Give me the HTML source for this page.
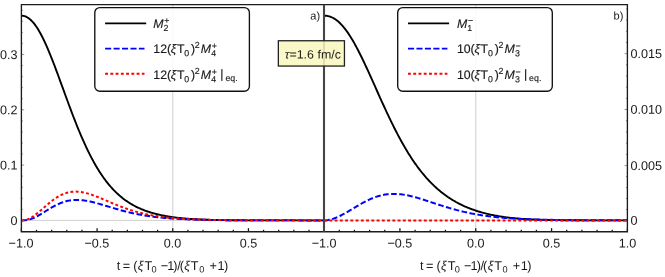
<!DOCTYPE html>
<html><head><meta charset="utf-8"><style>html,body{margin:0;padding:0;background:#fff}body{width:665px;height:277px;position:relative;overflow:hidden}</style></head><body><svg width="665" height="277" viewBox="0 0 665 277" style="position:absolute;left:0;top:0;will-change:transform;opacity:0.999">
<rect width="665" height="277" fill="#fff"/>
<line x1="21.4" x2="627.4" y1="220.4" y2="220.4" stroke="#cfcfcf" stroke-width="1"/>
<line x1="172.8" x2="172.8" y1="4.6" y2="231.7" stroke="#cfcfcf" stroke-width="1"/>
<line x1="475.8" x2="475.8" y1="4.6" y2="231.7" stroke="#cfcfcf" stroke-width="1"/>
<path d="M21.40,15.70 L22.41,15.74 L23.42,15.88 L24.44,16.12 L25.45,16.46 L26.46,16.91 L27.47,17.46 L28.49,18.11 L29.50,18.87 L30.51,19.74 L31.52,20.70 L32.54,21.77 L33.55,22.94 L34.56,24.20 L35.57,25.57 L36.59,27.03 L37.60,28.59 L38.61,30.24 L39.62,31.97 L40.64,33.80 L41.65,35.70 L42.66,37.69 L43.67,39.75 L44.68,41.88 L45.70,44.08 L46.71,46.35 L47.72,48.69 L48.73,51.08 L49.75,53.52 L50.76,56.01 L51.77,58.55 L52.78,61.13 L53.80,63.75 L54.81,66.41 L55.82,69.09 L56.83,71.80 L57.85,74.53 L58.86,77.28 L59.87,80.05 L60.88,82.82 L61.89,85.60 L62.91,88.39 L63.92,91.17 L64.93,93.95 L65.94,96.73 L66.96,99.49 L67.97,102.25 L68.98,104.98 L69.99,107.70 L71.01,110.40 L72.02,113.08 L73.03,115.73 L74.04,118.35 L75.06,120.95 L76.07,123.51 L77.08,126.04 L78.09,128.54 L79.11,131.00 L80.12,133.42 L81.13,135.80 L82.14,138.15 L83.15,140.45 L84.17,142.71 L85.18,144.93 L86.19,147.11 L87.20,149.25 L88.22,151.34 L89.23,153.38 L90.24,155.39 L91.25,157.35 L92.27,159.26 L93.28,161.13 L94.29,162.96 L95.30,164.74 L96.32,166.48 L97.33,168.18 L98.34,169.83 L99.35,171.44 L100.37,173.01 L101.38,174.53 L102.39,176.02 L103.40,177.47 L104.41,178.87 L105.43,180.24 L106.44,181.56 L107.45,182.85 L108.46,184.10 L109.48,185.32 L110.49,186.50 L111.50,187.64 L112.51,188.76 L113.53,189.83 L114.54,190.88 L115.55,191.89 L116.56,192.87 L117.58,193.82 L118.59,194.74 L119.60,195.63 L120.61,196.49 L121.63,197.33 L122.64,198.14 L123.65,198.92 L124.66,199.68 L125.67,200.41 L126.69,201.12 L127.70,201.81 L128.71,202.47 L129.72,203.11 L130.74,203.74 L131.75,204.34 L132.76,204.92 L133.77,205.48 L134.79,206.02 L135.80,206.54 L136.81,207.05 L137.82,207.54 L138.84,208.01 L139.85,208.46 L140.86,208.91 L141.87,209.33 L142.88,209.74 L143.90,210.14 L144.91,210.52 L145.92,210.89 L146.93,211.25 L147.95,211.60 L148.96,211.93 L149.97,212.25 L150.98,212.56 L152.00,212.86 L153.01,213.15 L154.02,213.43 L155.03,213.70 L156.05,213.96 L157.06,214.22 L158.07,214.46 L159.08,214.69 L160.10,214.92 L161.11,215.14 L162.12,215.35 L163.13,215.55 L164.14,215.74 L165.16,215.93 L166.17,216.11 L167.18,216.29 L168.19,216.46 L169.21,216.62 L170.22,216.78 L171.23,216.93 L172.24,217.07 L173.26,217.21 L174.27,217.35 L175.28,217.48 L176.29,217.61 L177.31,217.73 L178.32,217.84 L179.33,217.95 L180.34,218.06 L181.36,218.16 L182.37,218.26 L183.38,218.36 L184.39,218.45 L185.40,218.54 L186.42,218.63 L187.43,218.71 L188.44,218.79 L189.45,218.86 L190.47,218.93 L191.48,219.00 L192.49,219.07 L193.50,219.13 L194.52,219.19 L195.53,219.25 L196.54,219.31 L197.55,219.36 L198.57,219.41 L199.58,219.46 L200.59,219.51 L201.60,219.55 L202.62,219.60 L203.63,219.64 L204.64,219.68 L205.65,219.71 L206.66,219.75 L207.68,219.78 L208.69,219.82 L209.70,219.85 L210.71,219.88 L211.73,219.91 L212.74,219.93 L213.75,219.96 L214.76,219.98 L215.78,220.01 L216.79,220.03 L217.80,220.05 L218.81,220.07 L219.83,220.09 L220.84,220.10 L221.85,220.12 L222.86,220.14 L223.87,220.15 L224.89,220.17 L225.90,220.18 L226.91,220.19 L227.92,220.21 L228.94,220.22 L229.95,220.23 L230.96,220.24 L231.97,220.25 L232.99,220.26 L234.00,220.27 L235.01,220.27 L236.02,220.28 L237.04,220.29 L238.05,220.30 L239.06,220.30 L240.07,220.31 L241.09,220.31 L242.10,220.32 L243.11,220.32 L244.12,220.33 L245.13,220.33 L246.15,220.34 L247.16,220.34 L248.17,220.34 L249.18,220.35 L250.20,220.35 L251.21,220.35 L252.22,220.36 L253.23,220.36 L254.25,220.36 L255.26,220.36 L256.27,220.37 L257.28,220.37 L258.30,220.37 L259.31,220.37 L260.32,220.37 L261.33,220.37 L262.35,220.38 L263.36,220.38 L264.37,220.38 L265.38,220.38 L266.39,220.38 L267.41,220.38 L268.42,220.38 L269.43,220.38 L270.44,220.38 L271.46,220.38 L272.47,220.39 L273.48,220.39 L274.49,220.39 L275.51,220.39 L276.52,220.39 L277.53,220.39 L278.54,220.39 L279.56,220.39 L280.57,220.39 L281.58,220.39 L282.59,220.39 L283.61,220.39 L284.62,220.39 L285.63,220.39 L286.64,220.39 L287.65,220.39 L288.67,220.39 L289.68,220.39 L290.69,220.39 L291.70,220.39 L292.72,220.39 L293.73,220.39 L294.74,220.39 L295.75,220.39 L296.77,220.39 L297.78,220.39 L298.79,220.39 L299.80,220.39 L300.82,220.39 L301.83,220.39 L302.84,220.39 L303.85,220.39 L304.86,220.39 L305.88,220.39 L306.89,220.39 L307.90,220.39 L308.91,220.39 L309.93,220.39 L310.94,220.39 L311.95,220.39 L312.96,220.39 L313.98,220.39 L314.99,220.38 L316.00,220.38 L317.01,220.38 L318.03,220.38 L319.04,220.38 L320.05,220.37 L321.06,220.37 L322.08,220.37 L323.09,220.36 L324.10,220.36" fill="none" stroke="#000" stroke-width="1.9"/>
<path d="M21.40,220.40 L22.41,220.40 L23.42,220.37 L24.44,220.32 L25.45,220.23 L26.46,220.10 L27.47,219.93 L28.49,219.72 L29.50,219.46 L30.51,219.16 L31.52,218.82 L32.54,218.44 L33.55,218.02 L34.56,217.57 L35.57,217.08 L36.59,216.56 L37.60,216.02 L38.61,215.46 L39.62,214.88 L40.64,214.28 L41.65,213.66 L42.66,213.04 L43.67,212.41 L44.68,211.77 L45.70,211.13 L46.71,210.50 L47.72,209.87 L48.73,209.24 L49.75,208.63 L50.76,208.02 L51.77,207.43 L52.78,206.85 L53.80,206.29 L54.81,205.75 L55.82,205.23 L56.83,204.73 L57.85,204.25 L58.86,203.80 L59.87,203.36 L60.88,202.96 L61.89,202.58 L62.91,202.22 L63.92,201.89 L64.93,201.59 L65.94,201.31 L66.96,201.06 L67.97,200.84 L68.98,200.64 L69.99,200.46 L71.01,200.32 L72.02,200.20 L73.03,200.10 L74.04,200.03 L75.06,199.98 L76.07,199.95 L77.08,199.95 L78.09,199.96 L79.11,200.00 L80.12,200.06 L81.13,200.14 L82.14,200.23 L83.15,200.35 L84.17,200.48 L85.18,200.62 L86.19,200.79 L87.20,200.96 L88.22,201.15 L89.23,201.35 L90.24,201.57 L91.25,201.79 L92.27,202.03 L93.28,202.27 L94.29,202.53 L95.30,202.79 L96.32,203.06 L97.33,203.33 L98.34,203.61 L99.35,203.90 L100.37,204.19 L101.38,204.48 L102.39,204.78 L103.40,205.08 L104.41,205.38 L105.43,205.68 L106.44,205.99 L107.45,206.29 L108.46,206.60 L109.48,206.91 L110.49,207.21 L111.50,207.51 L112.51,207.81 L113.53,208.11 L114.54,208.41 L115.55,208.71 L116.56,209.00 L117.58,209.29 L118.59,209.58 L119.60,209.86 L120.61,210.14 L121.63,210.41 L122.64,210.69 L123.65,210.95 L124.66,211.22 L125.67,211.47 L126.69,211.73 L127.70,211.98 L128.71,212.22 L129.72,212.46 L130.74,212.70 L131.75,212.93 L132.76,213.15 L133.77,213.37 L134.79,213.59 L135.80,213.80 L136.81,214.01 L137.82,214.21 L138.84,214.40 L139.85,214.60 L140.86,214.78 L141.87,214.96 L142.88,215.14 L143.90,215.31 L144.91,215.48 L145.92,215.64 L146.93,215.80 L147.95,215.96 L148.96,216.11 L149.97,216.25 L150.98,216.39 L152.00,216.53 L153.01,216.66 L154.02,216.79 L155.03,216.92 L156.05,217.04 L157.06,217.16 L158.07,217.27 L159.08,217.38 L160.10,217.49 L161.11,217.59 L162.12,217.69 L163.13,217.79 L164.14,217.88 L165.16,217.97 L166.17,218.06 L167.18,218.15 L168.19,218.23 L169.21,218.31 L170.22,218.38 L171.23,218.46 L172.24,218.53 L173.26,218.60 L174.27,218.67 L175.28,218.73 L176.29,218.79 L177.31,218.85 L178.32,218.91 L179.33,218.96 L180.34,219.02 L181.36,219.07 L182.37,219.12 L183.38,219.17 L184.39,219.21 L185.40,219.26 L186.42,219.30 L187.43,219.34 L188.44,219.38 L189.45,219.42 L190.47,219.46 L191.48,219.49 L192.49,219.53 L193.50,219.56 L194.52,219.59 L195.53,219.62 L196.54,219.65 L197.55,219.68 L198.57,219.71 L199.58,219.73 L200.59,219.76 L201.60,219.78 L202.62,219.81 L203.63,219.83 L204.64,219.85 L205.65,219.87 L206.66,219.89 L207.68,219.91 L208.69,219.93 L209.70,219.95 L210.71,219.96 L211.73,219.98 L212.74,219.99 L213.75,220.01 L214.76,220.02 L215.78,220.04 L216.79,220.05 L217.80,220.06 L218.81,220.08 L219.83,220.09 L220.84,220.10 L221.85,220.11 L222.86,220.12 L223.87,220.13 L224.89,220.14 L225.90,220.15 L226.91,220.16 L227.92,220.17 L228.94,220.18 L229.95,220.19 L230.96,220.19 L231.97,220.20 L232.99,220.21 L234.00,220.22 L235.01,220.22 L236.02,220.23 L237.04,220.23 L238.05,220.24 L239.06,220.25 L240.07,220.25 L241.09,220.26 L242.10,220.26 L243.11,220.27 L244.12,220.27 L245.13,220.28 L246.15,220.28 L247.16,220.28 L248.17,220.29 L249.18,220.29 L250.20,220.29 L251.21,220.30 L252.22,220.30 L253.23,220.31 L254.25,220.31 L255.26,220.31 L256.27,220.31 L257.28,220.32 L258.30,220.32 L259.31,220.32 L260.32,220.32 L261.33,220.33 L262.35,220.33 L263.36,220.33 L264.37,220.33 L265.38,220.34 L266.39,220.34 L267.41,220.34 L268.42,220.34 L269.43,220.34 L270.44,220.35 L271.46,220.35 L272.47,220.35 L273.48,220.35 L274.49,220.35 L275.51,220.35 L276.52,220.35 L277.53,220.36 L278.54,220.36 L279.56,220.36 L280.57,220.36 L281.58,220.36 L282.59,220.36 L283.61,220.36 L284.62,220.36 L285.63,220.36 L286.64,220.37 L287.65,220.37 L288.67,220.37 L289.68,220.37 L290.69,220.37 L291.70,220.37 L292.72,220.37 L293.73,220.37 L294.74,220.37 L295.75,220.37 L296.77,220.37 L297.78,220.37 L298.79,220.37 L299.80,220.38 L300.82,220.38 L301.83,220.38 L302.84,220.38 L303.85,220.38 L304.86,220.38 L305.88,220.38 L306.89,220.38 L307.90,220.38 L308.91,220.38 L309.93,220.38 L310.94,220.38 L311.95,220.38 L312.96,220.38 L313.98,220.38 L314.99,220.38 L316.00,220.38 L317.01,220.38 L318.03,220.38 L319.04,220.38 L320.05,220.38 L321.06,220.38 L322.08,220.38 L323.09,220.38 L324.10,220.38" fill="none" stroke="#0000ff" stroke-width="2" stroke-dasharray="5.6 2.5"/>
<path d="M21.40,220.40 L22.41,220.38 L23.42,220.32 L24.44,220.19 L25.45,219.99 L26.46,219.72 L27.47,219.39 L28.49,218.99 L29.50,218.53 L30.51,218.01 L31.52,217.44 L32.54,216.82 L33.55,216.14 L34.56,215.43 L35.57,214.68 L36.59,213.90 L37.60,213.08 L38.61,212.25 L39.62,211.39 L40.64,210.52 L41.65,209.64 L42.66,208.75 L43.67,207.86 L44.68,206.97 L45.70,206.08 L46.71,205.20 L47.72,204.33 L48.73,203.48 L49.75,202.64 L50.76,201.83 L51.77,201.03 L52.78,200.26 L53.80,199.51 L54.81,198.80 L55.82,198.11 L56.83,197.45 L57.85,196.83 L58.86,196.24 L59.87,195.68 L60.88,195.16 L61.89,194.68 L62.91,194.23 L63.92,193.81 L64.93,193.44 L65.94,193.10 L66.96,192.79 L67.97,192.52 L68.98,192.29 L69.99,192.10 L71.01,191.93 L72.02,191.81 L73.03,191.71 L74.04,191.65 L75.06,191.62 L76.07,191.62 L77.08,191.65 L78.09,191.71 L79.11,191.80 L80.12,191.91 L81.13,192.05 L82.14,192.21 L83.15,192.40 L84.17,192.61 L85.18,192.84 L86.19,193.10 L87.20,193.37 L88.22,193.65 L89.23,193.96 L90.24,194.28 L91.25,194.61 L92.27,194.96 L93.28,195.32 L94.29,195.69 L95.30,196.08 L96.32,196.47 L97.33,196.87 L98.34,197.27 L99.35,197.69 L100.37,198.10 L101.38,198.53 L102.39,198.95 L103.40,199.38 L104.41,199.82 L105.43,200.25 L106.44,200.68 L107.45,201.12 L108.46,201.55 L109.48,201.98 L110.49,202.41 L111.50,202.84 L112.51,203.27 L113.53,203.69 L114.54,204.11 L115.55,204.53 L116.56,204.94 L117.58,205.35 L118.59,205.75 L119.60,206.15 L120.61,206.54 L121.63,206.92 L122.64,207.30 L123.65,207.68 L124.66,208.04 L125.67,208.40 L126.69,208.76 L127.70,209.10 L128.71,209.44 L129.72,209.78 L130.74,210.10 L131.75,210.42 L132.76,210.73 L133.77,211.04 L134.79,211.34 L135.80,211.63 L136.81,211.91 L137.82,212.19 L138.84,212.46 L139.85,212.72 L140.86,212.98 L141.87,213.22 L142.88,213.47 L143.90,213.70 L144.91,213.93 L145.92,214.15 L146.93,214.37 L147.95,214.58 L148.96,214.78 L149.97,214.98 L150.98,215.17 L152.00,215.36 L153.01,215.54 L154.02,215.71 L155.03,215.88 L156.05,216.05 L157.06,216.21 L158.07,216.36 L159.08,216.51 L160.10,216.65 L161.11,216.79 L162.12,216.92 L163.13,217.05 L164.14,217.18 L165.16,217.30 L166.17,217.42 L167.18,217.53 L168.19,217.64 L169.21,217.74 L170.22,217.84 L171.23,217.94 L172.24,218.03 L173.26,218.12 L174.27,218.21 L175.28,218.30 L176.29,218.38 L177.31,218.46 L178.32,218.53 L179.33,218.60 L180.34,218.67 L181.36,218.74 L182.37,218.80 L183.38,218.87 L184.39,218.93 L185.40,218.98 L186.42,219.04 L187.43,219.09 L188.44,219.14 L189.45,219.19 L190.47,219.24 L191.48,219.29 L192.49,219.33 L193.50,219.37 L194.52,219.41 L195.53,219.45 L196.54,219.49 L197.55,219.52 L198.57,219.56 L199.58,219.59 L200.59,219.62 L201.60,219.65 L202.62,219.68 L203.63,219.71 L204.64,219.74 L205.65,219.76 L206.66,219.79 L207.68,219.81 L208.69,219.84 L209.70,219.86 L210.71,219.88 L211.73,219.90 L212.74,219.92 L213.75,219.94 L214.76,219.96 L215.78,219.97 L216.79,219.99 L217.80,220.00 L218.81,220.02 L219.83,220.03 L220.84,220.05 L221.85,220.06 L222.86,220.07 L223.87,220.09 L224.89,220.10 L225.90,220.11 L226.91,220.12 L227.92,220.13 L228.94,220.14 L229.95,220.15 L230.96,220.16 L231.97,220.17 L232.99,220.18 L234.00,220.19 L235.01,220.19 L236.02,220.20 L237.04,220.21 L238.05,220.22 L239.06,220.22 L240.07,220.23 L241.09,220.24 L242.10,220.24 L243.11,220.25 L244.12,220.25 L245.13,220.26 L246.15,220.26 L247.16,220.27 L248.17,220.27 L249.18,220.28 L250.20,220.28 L251.21,220.29 L252.22,220.29 L253.23,220.29 L254.25,220.30 L255.26,220.30 L256.27,220.30 L257.28,220.31 L258.30,220.31 L259.31,220.31 L260.32,220.32 L261.33,220.32 L262.35,220.32 L263.36,220.32 L264.37,220.33 L265.38,220.33 L266.39,220.33 L267.41,220.33 L268.42,220.33 L269.43,220.34 L270.44,220.34 L271.46,220.34 L272.47,220.34 L273.48,220.34 L274.49,220.35 L275.51,220.35 L276.52,220.35 L277.53,220.35 L278.54,220.35 L279.56,220.35 L280.57,220.35 L281.58,220.36 L282.59,220.36 L283.61,220.36 L284.62,220.36 L285.63,220.36 L286.64,220.36 L287.65,220.36 L288.67,220.36 L289.68,220.36 L290.69,220.37 L291.70,220.37 L292.72,220.37 L293.73,220.37 L294.74,220.37 L295.75,220.37 L296.77,220.37 L297.78,220.37 L298.79,220.37 L299.80,220.37 L300.82,220.37 L301.83,220.37 L302.84,220.37 L303.85,220.37 L304.86,220.37 L305.88,220.38 L306.89,220.38 L307.90,220.38 L308.91,220.38 L309.93,220.38 L310.94,220.38 L311.95,220.38 L312.96,220.38 L313.98,220.38 L314.99,220.38 L316.00,220.38 L317.01,220.38 L318.03,220.38 L319.04,220.38 L320.05,220.38 L321.06,220.38 L322.08,220.38 L323.09,220.38 L324.10,220.38" fill="none" stroke="#ff0000" stroke-width="2" stroke-dasharray="2.9 2.35"/>
<path d="M324.10,15.70 L325.11,15.71 L326.13,15.78 L327.14,15.91 L328.16,16.10 L329.17,16.36 L330.19,16.67 L331.20,17.06 L332.22,17.50 L333.23,18.02 L334.24,18.60 L335.26,19.24 L336.27,19.96 L337.29,20.74 L338.30,21.59 L339.32,22.50 L340.33,23.48 L341.34,24.53 L342.36,25.64 L343.37,26.82 L344.39,28.06 L345.40,29.36 L346.42,30.72 L347.43,32.14 L348.45,33.62 L349.46,35.16 L350.47,36.75 L351.49,38.39 L352.50,40.08 L353.52,41.83 L354.53,43.62 L355.55,45.45 L356.56,47.33 L357.57,49.25 L358.59,51.21 L359.60,53.20 L360.62,55.23 L361.63,57.29 L362.65,59.38 L363.66,61.50 L364.68,63.64 L365.69,65.80 L366.70,67.99 L367.72,70.19 L368.73,72.41 L369.75,74.65 L370.76,76.89 L371.78,79.15 L372.79,81.41 L373.80,83.68 L374.82,85.95 L375.83,88.22 L376.85,90.49 L377.86,92.76 L378.88,95.03 L379.89,97.28 L380.91,99.54 L381.92,101.78 L382.93,104.01 L383.95,106.23 L384.96,108.43 L385.98,110.62 L386.99,112.80 L388.01,114.96 L389.02,117.09 L390.03,119.21 L391.05,121.31 L392.06,123.39 L393.08,125.44 L394.09,127.47 L395.11,129.48 L396.12,131.46 L397.14,133.42 L398.15,135.35 L399.16,137.25 L400.18,139.13 L401.19,140.98 L402.21,142.80 L403.22,144.59 L404.24,146.36 L405.25,148.09 L406.26,149.80 L407.28,151.48 L408.29,153.13 L409.31,154.76 L410.32,156.35 L411.34,157.91 L412.35,159.45 L413.37,160.96 L414.38,162.43 L415.39,163.88 L416.41,165.30 L417.42,166.70 L418.44,168.06 L419.45,169.40 L420.47,170.71 L421.48,171.99 L422.49,173.25 L423.51,174.48 L424.52,175.68 L425.54,176.86 L426.55,178.01 L427.57,179.14 L428.58,180.24 L429.60,181.31 L430.61,182.37 L431.62,183.40 L432.64,184.40 L433.65,185.38 L434.67,186.34 L435.68,187.28 L436.70,188.20 L437.71,189.09 L438.73,189.97 L439.74,190.82 L440.75,191.65 L441.77,192.47 L442.78,193.26 L443.80,194.03 L444.81,194.79 L445.83,195.52 L446.84,196.24 L447.85,196.95 L448.87,197.63 L449.88,198.30 L450.90,198.95 L451.91,199.58 L452.93,200.20 L453.94,200.80 L454.96,201.39 L455.97,201.97 L456.98,202.52 L458.00,203.07 L459.01,203.60 L460.03,204.12 L461.04,204.62 L462.06,205.11 L463.07,205.59 L464.08,206.05 L465.10,206.51 L466.11,206.95 L467.13,207.38 L468.14,207.80 L469.16,208.21 L470.17,208.60 L471.19,208.99 L472.20,209.36 L473.21,209.73 L474.23,210.09 L475.24,210.43 L476.26,210.77 L477.27,211.09 L478.29,211.41 L479.30,211.72 L480.31,212.02 L481.33,212.31 L482.34,212.60 L483.36,212.87 L484.37,213.14 L485.39,213.40 L486.40,213.65 L487.42,213.90 L488.43,214.14 L489.44,214.37 L490.46,214.59 L491.47,214.81 L492.49,215.02 L493.50,215.22 L494.52,215.42 L495.53,215.61 L496.54,215.80 L497.56,215.97 L498.57,216.15 L499.59,216.32 L500.60,216.48 L501.62,216.64 L502.63,216.79 L503.65,216.94 L504.66,217.08 L505.67,217.21 L506.69,217.35 L507.70,217.48 L508.72,217.60 L509.73,217.72 L510.75,217.83 L511.76,217.94 L512.77,218.05 L513.79,218.15 L514.80,218.25 L515.82,218.35 L516.83,218.44 L517.85,218.53 L518.86,218.61 L519.88,218.69 L520.89,218.77 L521.90,218.85 L522.92,218.92 L523.93,218.99 L524.95,219.05 L525.96,219.12 L526.98,219.18 L527.99,219.24 L529.01,219.29 L530.02,219.35 L531.03,219.40 L532.05,219.45 L533.06,219.49 L534.08,219.54 L535.09,219.58 L536.11,219.62 L537.12,219.66 L538.13,219.70 L539.15,219.73 L540.16,219.77 L541.18,219.80 L542.19,219.83 L543.21,219.86 L544.22,219.89 L545.24,219.91 L546.25,219.94 L547.26,219.96 L548.28,219.98 L549.29,220.00 L550.31,220.02 L551.32,220.04 L552.34,220.06 L553.35,220.08 L554.36,220.10 L555.38,220.11 L556.39,220.13 L557.41,220.14 L558.42,220.15 L559.44,220.17 L560.45,220.18 L561.47,220.19 L562.48,220.20 L563.49,220.21 L564.51,220.22 L565.52,220.23 L566.54,220.24 L567.55,220.25 L568.57,220.25 L569.58,220.26 L570.59,220.27 L571.61,220.27 L572.62,220.28 L573.64,220.29 L574.65,220.29 L575.67,220.30 L576.68,220.30 L577.70,220.30 L578.71,220.31 L579.72,220.31 L580.74,220.32 L581.75,220.32 L582.77,220.32 L583.78,220.33 L584.80,220.33 L585.81,220.33 L586.82,220.33 L587.84,220.34 L588.85,220.34 L589.87,220.34 L590.88,220.34 L591.90,220.34 L592.91,220.35 L593.93,220.35 L594.94,220.35 L595.95,220.35 L596.97,220.35 L597.98,220.35 L599.00,220.35 L600.01,220.35 L601.03,220.35 L602.04,220.36 L603.05,220.36 L604.07,220.36 L605.08,220.36 L606.10,220.36 L607.11,220.36 L608.13,220.36 L609.14,220.36 L610.16,220.36 L611.17,220.36 L612.18,220.36 L613.20,220.35 L614.21,220.35 L615.23,220.35 L616.24,220.35 L617.26,220.35 L618.27,220.35 L619.28,220.35 L620.30,220.35 L621.31,220.34 L622.33,220.34 L623.34,220.34 L624.36,220.33 L625.37,220.33 L626.39,220.33 L627.40,220.32" fill="none" stroke="#000" stroke-width="1.9"/>
<path d="M324.10,220.40 L325.11,220.38 L326.13,220.31 L327.14,220.19 L328.16,220.04 L329.17,219.84 L330.19,219.62 L331.20,219.35 L332.22,219.06 L333.23,218.74 L334.24,218.38 L335.26,218.00 L336.27,217.60 L337.29,217.17 L338.30,216.72 L339.32,216.25 L340.33,215.76 L341.34,215.25 L342.36,214.72 L343.37,214.18 L344.39,213.63 L345.40,213.06 L346.42,212.48 L347.43,211.90 L348.45,211.30 L349.46,210.70 L350.47,210.09 L351.49,209.49 L352.50,208.87 L353.52,208.26 L354.53,207.65 L355.55,207.04 L356.56,206.44 L357.57,205.84 L358.59,205.24 L359.60,204.65 L360.62,204.07 L361.63,203.50 L362.65,202.94 L363.66,202.38 L364.68,201.85 L365.69,201.32 L366.70,200.81 L367.72,200.31 L368.73,199.83 L369.75,199.36 L370.76,198.91 L371.78,198.48 L372.79,198.06 L373.80,197.67 L374.82,197.29 L375.83,196.93 L376.85,196.59 L377.86,196.27 L378.88,195.97 L379.89,195.69 L380.91,195.43 L381.92,195.19 L382.93,194.97 L383.95,194.78 L384.96,194.60 L385.98,194.44 L386.99,194.30 L388.01,194.18 L389.02,194.09 L390.03,194.01 L391.05,193.95 L392.06,193.91 L393.08,193.89 L394.09,193.89 L395.11,193.90 L396.12,193.93 L397.14,193.98 L398.15,194.05 L399.16,194.13 L400.18,194.23 L401.19,194.35 L402.21,194.48 L403.22,194.62 L404.24,194.78 L405.25,194.95 L406.26,195.13 L407.28,195.33 L408.29,195.54 L409.31,195.76 L410.32,195.99 L411.34,196.23 L412.35,196.47 L413.37,196.73 L414.38,197.00 L415.39,197.27 L416.41,197.56 L417.42,197.85 L418.44,198.14 L419.45,198.44 L420.47,198.75 L421.48,199.06 L422.49,199.38 L423.51,199.70 L424.52,200.02 L425.54,200.35 L426.55,200.68 L427.57,201.01 L428.58,201.34 L429.60,201.67 L430.61,202.01 L431.62,202.35 L432.64,202.68 L433.65,203.02 L434.67,203.35 L435.68,203.69 L436.70,204.02 L437.71,204.35 L438.73,204.68 L439.74,205.01 L440.75,205.34 L441.77,205.66 L442.78,205.99 L443.80,206.31 L444.81,206.62 L445.83,206.94 L446.84,207.24 L447.85,207.55 L448.87,207.85 L449.88,208.15 L450.90,208.45 L451.91,208.74 L452.93,209.02 L453.94,209.31 L454.96,209.58 L455.97,209.86 L456.98,210.13 L458.00,210.39 L459.01,210.65 L460.03,210.91 L461.04,211.16 L462.06,211.41 L463.07,211.65 L464.08,211.88 L465.10,212.12 L466.11,212.34 L467.13,212.57 L468.14,212.79 L469.16,213.00 L470.17,213.21 L471.19,213.41 L472.20,213.61 L473.21,213.81 L474.23,214.00 L475.24,214.18 L476.26,214.37 L477.27,214.54 L478.29,214.72 L479.30,214.88 L480.31,215.05 L481.33,215.21 L482.34,215.37 L483.36,215.52 L484.37,215.67 L485.39,215.81 L486.40,215.95 L487.42,216.09 L488.43,216.22 L489.44,216.35 L490.46,216.48 L491.47,216.60 L492.49,216.72 L493.50,216.83 L494.52,216.95 L495.53,217.06 L496.54,217.16 L497.56,217.26 L498.57,217.36 L499.59,217.46 L500.60,217.55 L501.62,217.65 L502.63,217.73 L503.65,217.82 L504.66,217.90 L505.67,217.98 L506.69,218.06 L507.70,218.14 L508.72,218.21 L509.73,218.28 L510.75,218.35 L511.76,218.42 L512.77,218.48 L513.79,218.55 L514.80,218.61 L515.82,218.67 L516.83,218.72 L517.85,218.78 L518.86,218.83 L519.88,218.88 L520.89,218.93 L521.90,218.98 L522.92,219.03 L523.93,219.07 L524.95,219.12 L525.96,219.16 L526.98,219.20 L527.99,219.24 L529.01,219.28 L530.02,219.31 L531.03,219.35 L532.05,219.38 L533.06,219.42 L534.08,219.45 L535.09,219.48 L536.11,219.51 L537.12,219.54 L538.13,219.57 L539.15,219.59 L540.16,219.62 L541.18,219.65 L542.19,219.67 L543.21,219.69 L544.22,219.72 L545.24,219.74 L546.25,219.76 L547.26,219.78 L548.28,219.80 L549.29,219.82 L550.31,219.84 L551.32,219.86 L552.34,219.87 L553.35,219.89 L554.36,219.91 L555.38,219.92 L556.39,219.94 L557.41,219.95 L558.42,219.97 L559.44,219.98 L560.45,219.99 L561.47,220.00 L562.48,220.02 L563.49,220.03 L564.51,220.04 L565.52,220.05 L566.54,220.06 L567.55,220.07 L568.57,220.08 L569.58,220.09 L570.59,220.10 L571.61,220.11 L572.62,220.12 L573.64,220.13 L574.65,220.13 L575.67,220.14 L576.68,220.15 L577.70,220.16 L578.71,220.16 L579.72,220.17 L580.74,220.18 L581.75,220.18 L582.77,220.19 L583.78,220.19 L584.80,220.20 L585.81,220.21 L586.82,220.21 L587.84,220.22 L588.85,220.22 L589.87,220.23 L590.88,220.23 L591.90,220.23 L592.91,220.24 L593.93,220.24 L594.94,220.25 L595.95,220.25 L596.97,220.26 L597.98,220.26 L599.00,220.26 L600.01,220.27 L601.03,220.27 L602.04,220.27 L603.05,220.28 L604.07,220.28 L605.08,220.28 L606.10,220.28 L607.11,220.29 L608.13,220.29 L609.14,220.29 L610.16,220.29 L611.17,220.30 L612.18,220.30 L613.20,220.30 L614.21,220.30 L615.23,220.31 L616.24,220.31 L617.26,220.31 L618.27,220.31 L619.28,220.31 L620.30,220.31 L621.31,220.32 L622.33,220.32 L623.34,220.32 L624.36,220.32 L625.37,220.32 L626.39,220.32 L627.40,220.32" fill="none" stroke="#0000ff" stroke-width="2" stroke-dasharray="5.6 2.5"/>
<path d="M324.1,220.4 L627.4,220.4" fill="none" stroke="#ff0000" stroke-width="2" stroke-dasharray="2.9 2.35"/>
<line x1="21.40" x2="21.40" y1="231.7" y2="228.2" stroke="#111" stroke-width="1.25"/>
<line x1="36.53" x2="36.53" y1="231.7" y2="229.79999999999998" stroke="#111" stroke-width="1.25"/>
<line x1="51.67" x2="51.67" y1="231.7" y2="229.79999999999998" stroke="#111" stroke-width="1.25"/>
<line x1="66.81" x2="66.81" y1="231.7" y2="229.79999999999998" stroke="#111" stroke-width="1.25"/>
<line x1="81.94" x2="81.94" y1="231.7" y2="229.79999999999998" stroke="#111" stroke-width="1.25"/>
<line x1="97.08" x2="97.08" y1="231.7" y2="228.2" stroke="#111" stroke-width="1.25"/>
<line x1="112.21" x2="112.21" y1="231.7" y2="229.79999999999998" stroke="#111" stroke-width="1.25"/>
<line x1="127.35" x2="127.35" y1="231.7" y2="229.79999999999998" stroke="#111" stroke-width="1.25"/>
<line x1="142.48" x2="142.48" y1="231.7" y2="229.79999999999998" stroke="#111" stroke-width="1.25"/>
<line x1="157.62" x2="157.62" y1="231.7" y2="229.79999999999998" stroke="#111" stroke-width="1.25"/>
<line x1="172.75" x2="172.75" y1="231.7" y2="228.2" stroke="#111" stroke-width="1.25"/>
<line x1="187.89" x2="187.89" y1="231.7" y2="229.79999999999998" stroke="#111" stroke-width="1.25"/>
<line x1="203.02" x2="203.02" y1="231.7" y2="229.79999999999998" stroke="#111" stroke-width="1.25"/>
<line x1="218.16" x2="218.16" y1="231.7" y2="229.79999999999998" stroke="#111" stroke-width="1.25"/>
<line x1="233.29" x2="233.29" y1="231.7" y2="229.79999999999998" stroke="#111" stroke-width="1.25"/>
<line x1="248.43" x2="248.43" y1="231.7" y2="228.2" stroke="#111" stroke-width="1.25"/>
<line x1="263.56" x2="263.56" y1="231.7" y2="229.79999999999998" stroke="#111" stroke-width="1.25"/>
<line x1="278.69" x2="278.69" y1="231.7" y2="229.79999999999998" stroke="#111" stroke-width="1.25"/>
<line x1="293.83" x2="293.83" y1="231.7" y2="229.79999999999998" stroke="#111" stroke-width="1.25"/>
<line x1="308.97" x2="308.97" y1="231.7" y2="229.79999999999998" stroke="#111" stroke-width="1.25"/>
<line x1="324.10" x2="324.10" y1="231.7" y2="228.2" stroke="#111" stroke-width="1.25"/>
<line x1="324.10" x2="324.10" y1="231.7" y2="228.2" stroke="#111" stroke-width="1.25"/>
<line x1="339.27" x2="339.27" y1="231.7" y2="229.79999999999998" stroke="#111" stroke-width="1.25"/>
<line x1="354.43" x2="354.43" y1="231.7" y2="229.79999999999998" stroke="#111" stroke-width="1.25"/>
<line x1="369.60" x2="369.60" y1="231.7" y2="229.79999999999998" stroke="#111" stroke-width="1.25"/>
<line x1="384.76" x2="384.76" y1="231.7" y2="229.79999999999998" stroke="#111" stroke-width="1.25"/>
<line x1="399.93" x2="399.93" y1="231.7" y2="228.2" stroke="#111" stroke-width="1.25"/>
<line x1="415.09" x2="415.09" y1="231.7" y2="229.79999999999998" stroke="#111" stroke-width="1.25"/>
<line x1="430.25" x2="430.25" y1="231.7" y2="229.79999999999998" stroke="#111" stroke-width="1.25"/>
<line x1="445.42" x2="445.42" y1="231.7" y2="229.79999999999998" stroke="#111" stroke-width="1.25"/>
<line x1="460.59" x2="460.59" y1="231.7" y2="229.79999999999998" stroke="#111" stroke-width="1.25"/>
<line x1="475.75" x2="475.75" y1="231.7" y2="228.2" stroke="#111" stroke-width="1.25"/>
<line x1="490.91" x2="490.91" y1="231.7" y2="229.79999999999998" stroke="#111" stroke-width="1.25"/>
<line x1="506.08" x2="506.08" y1="231.7" y2="229.79999999999998" stroke="#111" stroke-width="1.25"/>
<line x1="521.25" x2="521.25" y1="231.7" y2="229.79999999999998" stroke="#111" stroke-width="1.25"/>
<line x1="536.41" x2="536.41" y1="231.7" y2="229.79999999999998" stroke="#111" stroke-width="1.25"/>
<line x1="551.58" x2="551.58" y1="231.7" y2="228.2" stroke="#111" stroke-width="1.25"/>
<line x1="566.74" x2="566.74" y1="231.7" y2="229.79999999999998" stroke="#111" stroke-width="1.25"/>
<line x1="581.90" x2="581.90" y1="231.7" y2="229.79999999999998" stroke="#111" stroke-width="1.25"/>
<line x1="597.07" x2="597.07" y1="231.7" y2="229.79999999999998" stroke="#111" stroke-width="1.25"/>
<line x1="612.23" x2="612.23" y1="231.7" y2="229.79999999999998" stroke="#111" stroke-width="1.25"/>
<line x1="627.40" x2="627.40" y1="231.7" y2="228.2" stroke="#111" stroke-width="1.25"/>
<line x1="21.4" x2="24.2" y1="220.40" y2="220.40" stroke="#777" stroke-width="0.8"/>
<line x1="21.4" x2="22.9" y1="209.34" y2="209.34" stroke="#777" stroke-width="0.8"/>
<line x1="21.4" x2="22.9" y1="198.28" y2="198.28" stroke="#777" stroke-width="0.8"/>
<line x1="21.4" x2="22.9" y1="187.22" y2="187.22" stroke="#777" stroke-width="0.8"/>
<line x1="21.4" x2="22.9" y1="176.16" y2="176.16" stroke="#777" stroke-width="0.8"/>
<line x1="21.4" x2="24.2" y1="165.10" y2="165.10" stroke="#777" stroke-width="0.8"/>
<line x1="21.4" x2="22.9" y1="154.04" y2="154.04" stroke="#777" stroke-width="0.8"/>
<line x1="21.4" x2="22.9" y1="142.98" y2="142.98" stroke="#777" stroke-width="0.8"/>
<line x1="21.4" x2="22.9" y1="131.92" y2="131.92" stroke="#777" stroke-width="0.8"/>
<line x1="21.4" x2="22.9" y1="120.86" y2="120.86" stroke="#777" stroke-width="0.8"/>
<line x1="21.4" x2="24.2" y1="109.80" y2="109.80" stroke="#777" stroke-width="0.8"/>
<line x1="21.4" x2="22.9" y1="98.74" y2="98.74" stroke="#777" stroke-width="0.8"/>
<line x1="21.4" x2="22.9" y1="87.68" y2="87.68" stroke="#777" stroke-width="0.8"/>
<line x1="21.4" x2="22.9" y1="76.62" y2="76.62" stroke="#777" stroke-width="0.8"/>
<line x1="21.4" x2="22.9" y1="65.56" y2="65.56" stroke="#777" stroke-width="0.8"/>
<line x1="21.4" x2="24.2" y1="54.50" y2="54.50" stroke="#777" stroke-width="0.8"/>
<line x1="21.4" x2="22.9" y1="43.44" y2="43.44" stroke="#777" stroke-width="0.8"/>
<line x1="21.4" x2="22.9" y1="32.38" y2="32.38" stroke="#777" stroke-width="0.8"/>
<line x1="21.4" x2="22.9" y1="21.32" y2="21.32" stroke="#777" stroke-width="0.8"/>
<line x1="21.4" x2="22.9" y1="10.26" y2="10.26" stroke="#777" stroke-width="0.8"/>
<line x1="627.4" x2="624.6" y1="220.45" y2="220.45" stroke="#777" stroke-width="0.8"/>
<line x1="627.4" x2="625.9" y1="209.48" y2="209.48" stroke="#777" stroke-width="0.8"/>
<line x1="627.4" x2="625.9" y1="198.51" y2="198.51" stroke="#777" stroke-width="0.8"/>
<line x1="627.4" x2="625.9" y1="187.54" y2="187.54" stroke="#777" stroke-width="0.8"/>
<line x1="627.4" x2="625.9" y1="176.57" y2="176.57" stroke="#777" stroke-width="0.8"/>
<line x1="627.4" x2="624.6" y1="165.60" y2="165.60" stroke="#777" stroke-width="0.8"/>
<line x1="627.4" x2="625.9" y1="154.38" y2="154.38" stroke="#777" stroke-width="0.8"/>
<line x1="627.4" x2="625.9" y1="143.16" y2="143.16" stroke="#777" stroke-width="0.8"/>
<line x1="627.4" x2="625.9" y1="131.94" y2="131.94" stroke="#777" stroke-width="0.8"/>
<line x1="627.4" x2="625.9" y1="120.72" y2="120.72" stroke="#777" stroke-width="0.8"/>
<line x1="627.4" x2="624.6" y1="109.50" y2="109.50" stroke="#777" stroke-width="0.8"/>
<line x1="627.4" x2="625.9" y1="98.33" y2="98.33" stroke="#777" stroke-width="0.8"/>
<line x1="627.4" x2="625.9" y1="87.16" y2="87.16" stroke="#777" stroke-width="0.8"/>
<line x1="627.4" x2="625.9" y1="75.99" y2="75.99" stroke="#777" stroke-width="0.8"/>
<line x1="627.4" x2="625.9" y1="64.82" y2="64.82" stroke="#777" stroke-width="0.8"/>
<line x1="627.4" x2="624.6" y1="53.65" y2="53.65" stroke="#777" stroke-width="0.8"/>
<line x1="627.4" x2="625.9" y1="42.48" y2="42.48" stroke="#777" stroke-width="0.8"/>
<line x1="627.4" x2="625.9" y1="31.31" y2="31.31" stroke="#777" stroke-width="0.8"/>
<line x1="627.4" x2="625.9" y1="20.14" y2="20.14" stroke="#777" stroke-width="0.8"/>
<line x1="627.4" x2="625.9" y1="8.97" y2="8.97" stroke="#777" stroke-width="0.8"/>
<path d="M21.4,4.6 H627.4 V231.7 H21.4 Z" fill="none" stroke="#1c1c1c" stroke-width="1.35"/>
<line x1="324.0" x2="324.0" y1="4.6" y2="231.7" stroke="#454545" stroke-width="2.1"/>
<text transform="translate(21.0,247.4) rotate(0.03) scale(1.0,1)" text-anchor="middle" font-size="12.6" fill="#1a1a1a" font-family="Liberation Sans, sans-serif" text-rendering="geometricPrecision" >−1.0</text>
<text transform="translate(96.9,247.4) rotate(0.03) scale(1.0,1)" text-anchor="middle" font-size="12.6" fill="#1a1a1a" font-family="Liberation Sans, sans-serif" text-rendering="geometricPrecision" >−0.5</text>
<text transform="translate(172.4,247.4) rotate(0.03) scale(1.0,1)" text-anchor="middle" font-size="12.6" fill="#1a1a1a" font-family="Liberation Sans, sans-serif" text-rendering="geometricPrecision" >0.0</text>
<text transform="translate(248.4,247.4) rotate(0.03) scale(1.0,1)" text-anchor="middle" font-size="12.6" fill="#1a1a1a" font-family="Liberation Sans, sans-serif" text-rendering="geometricPrecision" >0.5</text>
<text transform="translate(324.1,247.4) rotate(0.03) scale(1.0,1)" text-anchor="middle" font-size="12.6" fill="#1a1a1a" font-family="Liberation Sans, sans-serif" text-rendering="geometricPrecision" >−1.0</text>
<text transform="translate(399.9,247.4) rotate(0.03) scale(1.0,1)" text-anchor="middle" font-size="12.6" fill="#1a1a1a" font-family="Liberation Sans, sans-serif" text-rendering="geometricPrecision" >−0.5</text>
<text transform="translate(475.8,247.4) rotate(0.03) scale(1.0,1)" text-anchor="middle" font-size="12.6" fill="#1a1a1a" font-family="Liberation Sans, sans-serif" text-rendering="geometricPrecision" >0.0</text>
<text transform="translate(551.6,247.4) rotate(0.03) scale(1.0,1)" text-anchor="middle" font-size="12.6" fill="#1a1a1a" font-family="Liberation Sans, sans-serif" text-rendering="geometricPrecision" >0.5</text>
<text transform="translate(627.4,247.4) rotate(0.03) scale(1.0,1)" text-anchor="middle" font-size="12.6" fill="#1a1a1a" font-family="Liberation Sans, sans-serif" text-rendering="geometricPrecision" >1.0</text>
<text transform="translate(17.4,224.9) rotate(0.03) scale(1.0,1)" text-anchor="end" font-size="12.6" fill="#1a1a1a" font-family="Liberation Sans, sans-serif" text-rendering="geometricPrecision" >0</text>
<text transform="translate(17.4,169.6) rotate(0.03) scale(1.0,1)" text-anchor="end" font-size="12.6" fill="#1a1a1a" font-family="Liberation Sans, sans-serif" text-rendering="geometricPrecision" >0.1</text>
<text transform="translate(17.4,114.3) rotate(0.03) scale(1.0,1)" text-anchor="end" font-size="12.6" fill="#1a1a1a" font-family="Liberation Sans, sans-serif" text-rendering="geometricPrecision" >0.2</text>
<text transform="translate(17.4,59.0) rotate(0.03) scale(1.0,1)" text-anchor="end" font-size="12.6" fill="#1a1a1a" font-family="Liberation Sans, sans-serif" text-rendering="geometricPrecision" >0.3</text>
<text transform="translate(630.6,224.8) rotate(0.03) scale(1.0,1)" text-anchor="start" font-size="12.6" fill="#1a1a1a" font-family="Liberation Sans, sans-serif" text-rendering="geometricPrecision" >0</text>
<text transform="translate(630.6,169.9) rotate(0.03) scale(1.0,1)" text-anchor="start" font-size="12.6" fill="#1a1a1a" font-family="Liberation Sans, sans-serif" text-rendering="geometricPrecision" >0.005</text>
<text transform="translate(630.6,113.8) rotate(0.03) scale(1.0,1)" text-anchor="start" font-size="12.6" fill="#1a1a1a" font-family="Liberation Sans, sans-serif" text-rendering="geometricPrecision" >0.010</text>
<text transform="translate(630.6,57.9) rotate(0.03) scale(1.0,1)" text-anchor="start" font-size="12.6" fill="#1a1a1a" font-family="Liberation Sans, sans-serif" text-rendering="geometricPrecision" >0.015</text>
<text transform="translate(320.1,19.6) rotate(0.03) scale(1.0,1)" text-anchor="end" font-size="11" fill="#1a1a1a" font-family="Liberation Sans, sans-serif" text-rendering="geometricPrecision" >a)</text>
<text transform="translate(623.4,19.6) rotate(0.03) scale(1.0,1)" text-anchor="end" font-size="11" fill="#1a1a1a" font-family="Liberation Sans, sans-serif" text-rendering="geometricPrecision" >b)</text>
<text transform="rotate(0.03 116.9 270)" font-size="12.7" fill="#1a1a1a" font-family="Liberation Sans, sans-serif" text-rendering="geometricPrecision"><tspan x="116.65" y="270.00">t</tspan><tspan x="122.75" y="270.00">=</tspan><tspan x="133.15" y="270.00">(</tspan><tspan x="137.75" y="270.00" font-style="italic">ξ</tspan><tspan x="144.53" y="270.00">T</tspan><tspan x="151.55" y="272.40" font-size="9.2">0</tspan><tspan x="160.70" y="270.00">−</tspan><tspan x="167.25" y="270.00">1</tspan><tspan x="173.35" y="270.00">)</tspan><tspan x="177.15" y="270.00">/</tspan><tspan x="179.75" y="270.00">(</tspan><tspan x="184.35" y="270.00" font-style="italic">ξ</tspan><tspan x="190.83" y="270.00">T</tspan><tspan x="199.15" y="272.40" font-size="9.2">0</tspan><tspan x="209.55" y="270.00">+</tspan><tspan x="217.45" y="270.00">1</tspan><tspan x="223.95" y="270.00">)</tspan></text>
<text transform="rotate(0.03 420.20000000000005 270)" font-size="12.7" fill="#1a1a1a" font-family="Liberation Sans, sans-serif" text-rendering="geometricPrecision"><tspan x="419.95" y="270.00">t</tspan><tspan x="426.05" y="270.00">=</tspan><tspan x="436.45" y="270.00">(</tspan><tspan x="441.05" y="270.00" font-style="italic">ξ</tspan><tspan x="447.83" y="270.00">T</tspan><tspan x="454.85" y="272.40" font-size="9.2">0</tspan><tspan x="464.00" y="270.00">−</tspan><tspan x="470.55" y="270.00">1</tspan><tspan x="476.65" y="270.00">)</tspan><tspan x="480.45" y="270.00">/</tspan><tspan x="483.05" y="270.00">(</tspan><tspan x="487.65" y="270.00" font-style="italic">ξ</tspan><tspan x="494.13" y="270.00">T</tspan><tspan x="502.45" y="272.40" font-size="9.2">0</tspan><tspan x="512.85" y="270.00">+</tspan><tspan x="520.75" y="270.00">1</tspan><tspan x="527.25" y="270.00">)</tspan></text>
<rect x="94.8" y="7.55" width="154.6" height="83.65" rx="5" ry="5" fill="#fff" fill-opacity="0.85" stroke="#111" stroke-width="1.35"/>
<line x1="105.1" x2="146.2" y1="23.4" y2="23.4" stroke="#000" stroke-width="1.9"/>
<line x1="105.1" x2="144.5" y1="48.7" y2="48.7" stroke="#0000ff" stroke-width="1.7" stroke-dasharray="6.1 2.35"/>
<line x1="105.1" x2="144.5" y1="73.8" y2="73.8" stroke="#ff0000" stroke-width="2" stroke-dasharray="2.9 2.35"/>
<text transform="rotate(0.03 153.2 27.9)" font-size="12.3" fill="#1a1a1a" stroke="#1a1a1a" stroke-width="0.15" font-family="Liberation Sans, sans-serif" text-rendering="geometricPrecision" xml:space="preserve"><tspan font-style="italic" x="153.20" y="27.90">M</tspan><tspan font-size="8.8" x="164.20" y="23.60">+</tspan><tspan font-size="8.8" x="163.60" y="31.10">2</tspan></text>
<text transform="rotate(0.03 153.2 53.0)" font-size="12.3" fill="#1a1a1a" stroke="#1a1a1a" stroke-width="0.15" font-family="Liberation Sans, sans-serif" text-rendering="geometricPrecision" xml:space="preserve"><tspan x="153.20" y="53.00" textLength="13.8" lengthAdjust="spacing">12</tspan><tspan x="166.90" y="53.00">(</tspan><tspan font-style="italic" x="170.70" y="53.00">ξ</tspan><tspan x="176.90" y="53.00">T</tspan><tspan font-size="8.8" x="184.20" y="56.20">0</tspan><tspan x="191.00" y="53.00">)</tspan><tspan font-size="8.8" x="194.80" y="48.00">2</tspan><tspan font-style="italic" x="200.80" y="53.00">M</tspan><tspan font-size="8.8" x="211.80" y="48.70">+</tspan><tspan font-size="8.8" x="211.20" y="56.20">4</tspan></text>
<text transform="rotate(0.03 153.2 79.0)" font-size="12.3" fill="#1a1a1a" stroke="#1a1a1a" stroke-width="0.15" font-family="Liberation Sans, sans-serif" text-rendering="geometricPrecision" xml:space="preserve"><tspan x="153.20" y="79.00" textLength="13.8" lengthAdjust="spacing">12</tspan><tspan x="166.90" y="79.00">(</tspan><tspan font-style="italic" x="170.70" y="79.00">ξ</tspan><tspan x="176.90" y="79.00">T</tspan><tspan font-size="8.8" x="184.20" y="82.20">0</tspan><tspan x="191.00" y="79.00">)</tspan><tspan font-size="8.8" x="194.80" y="74.00">2</tspan><tspan font-style="italic" x="200.80" y="79.00">M</tspan><tspan font-size="8.8" x="211.80" y="74.70">+</tspan><tspan font-size="8.8" x="211.20" y="82.20">4</tspan><tspan x="220.20" y="78.20">|</tspan><tspan font-size="8.8" x="225.40" y="80.90">eq.</tspan></text>
<rect x="397.7" y="7.55" width="154.6" height="83.65" rx="5" ry="5" fill="#fff" fill-opacity="0.85" stroke="#111" stroke-width="1.35"/>
<line x1="408.0" x2="449.09999999999997" y1="23.4" y2="23.4" stroke="#000" stroke-width="1.9"/>
<line x1="408.0" x2="447.4" y1="48.7" y2="48.7" stroke="#0000ff" stroke-width="1.7" stroke-dasharray="6.1 2.35"/>
<line x1="408.0" x2="447.4" y1="73.8" y2="73.8" stroke="#ff0000" stroke-width="2" stroke-dasharray="2.9 2.35"/>
<text transform="rotate(0.03 456.9 27.9)" font-size="12.3" fill="#1a1a1a" stroke="#1a1a1a" stroke-width="0.15" font-family="Liberation Sans, sans-serif" text-rendering="geometricPrecision" xml:space="preserve"><tspan font-style="italic" x="456.90" y="27.90">M</tspan><tspan font-size="8.8" x="467.90" y="23.60">−</tspan><tspan font-size="8.8" x="467.30" y="31.10">1</tspan></text>
<text transform="rotate(0.03 456.9 53.0)" font-size="12.3" fill="#1a1a1a" stroke="#1a1a1a" stroke-width="0.15" font-family="Liberation Sans, sans-serif" text-rendering="geometricPrecision" xml:space="preserve"><tspan x="456.90" y="53.00" textLength="13.8" lengthAdjust="spacing">10</tspan><tspan x="470.60" y="53.00">(</tspan><tspan font-style="italic" x="474.40" y="53.00">ξ</tspan><tspan x="480.60" y="53.00">T</tspan><tspan font-size="8.8" x="487.90" y="56.20">0</tspan><tspan x="494.70" y="53.00">)</tspan><tspan font-size="8.8" x="498.50" y="48.00">2</tspan><tspan font-style="italic" x="504.50" y="53.00">M</tspan><tspan font-size="8.8" x="515.50" y="48.70">−</tspan><tspan font-size="8.8" x="514.90" y="56.20">3</tspan></text>
<text transform="rotate(0.03 456.9 79.0)" font-size="12.3" fill="#1a1a1a" stroke="#1a1a1a" stroke-width="0.15" font-family="Liberation Sans, sans-serif" text-rendering="geometricPrecision" xml:space="preserve"><tspan x="456.90" y="79.00" textLength="13.8" lengthAdjust="spacing">10</tspan><tspan x="470.60" y="79.00">(</tspan><tspan font-style="italic" x="474.40" y="79.00">ξ</tspan><tspan x="480.60" y="79.00">T</tspan><tspan font-size="8.8" x="487.90" y="82.20">0</tspan><tspan x="494.70" y="79.00">)</tspan><tspan font-size="8.8" x="498.50" y="74.00">2</tspan><tspan font-style="italic" x="504.50" y="79.00">M</tspan><tspan font-size="8.8" x="515.50" y="74.70">−</tspan><tspan font-size="8.8" x="514.90" y="82.20">3</tspan><tspan x="523.90" y="78.20">|</tspan><tspan font-size="8.8" x="529.10" y="80.90">eq.</tspan></text>
<rect x="278.35" y="40.75" width="66.1" height="25.3" fill="#f9f7be" fill-opacity="0.86" stroke="#222" stroke-width="1.3"/>
<text transform="translate(284.8,58.4) rotate(0.03) scale(1.035,1)" font-size="12" fill="#1a1a1a" font-family="Liberation Sans, sans-serif" text-rendering="geometricPrecision"><tspan font-style="italic">τ</tspan>=1.6 fm/c</text>
</svg></body></html>
